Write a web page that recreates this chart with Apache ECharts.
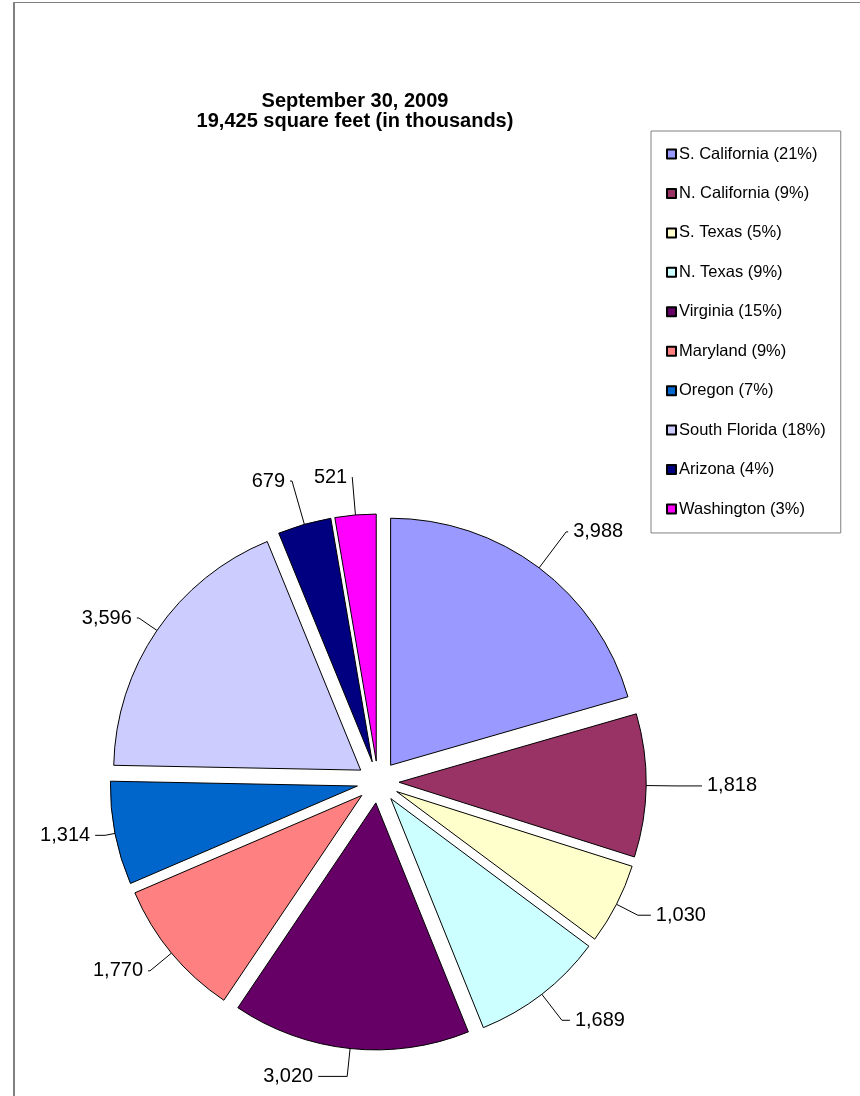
<!DOCTYPE html>
<html>
<head>
<meta charset="utf-8">
<script src="https://cdn.jsdelivr.net/npm/echarts@6/dist/echarts.min.js"></script>
<style>
html,body{margin:0;padding:0;background:#fff;}
#chart{width:860px;height:1096px;}
</style>
</head>
<body>
<div id="chart"></div>
<script>
const categories = ["S. California (21%)","N. California (9%)","S. Texas (5%)","N. Texas (9%)","Virginia (15%)","Maryland (9%)","Oregon (7%)","South Florida (18%)","Arizona (4%)","Washington (3%)"];
const values = [3988,1818,1030,1689,3020,1770,1314,3596,679,521];
const colors = ["#9999FF","#993366","#FFFFCC","#CCFFFF","#660066","#FF8080","#0066CC","#CCCCFF","#000080","#FF00FF"];
const titleLines = ["September 30, 2009","19,425 square feet (in thousands)"];
// leader line lengths per slice (style only): [first segment, second segment]
const leaderLengths = [[45,2],[30,26],[24,13],[33,8],[28,29],[28,2],[10,10],[22,2],[45,2],[38,0]];

const chart = echarts.init(document.getElementById('chart'), null, {renderer:'canvas'});
const FONT = 'Arial, "Liberation Sans", sans-serif';
chart.setOption({
  animation:false,
  backgroundColor:'#fff',
  title:{
    text:titleLines.join('\n'),
    left:355, top:91, textAlign:'center', padding:0,
    textStyle:{fontFamily:FONT,fontSize:20,fontWeight:'bold',color:'#000',lineHeight:20}
  },
  graphic:[
    {type:'line', shape:{x1:13,y1:2.5,x2:870,y2:2.5}, style:{stroke:'#808080',lineWidth:1}, silent:true},
    {type:'line', shape:{x1:14,y1:2,x2:14,y2:1100}, style:{stroke:'#808080',lineWidth:2}, silent:true}
  ],
  legend:{
    orient:'vertical', left:651, top:131,
    padding:[13.5,15,14.5,15], itemGap:20.44, itemWidth:9, itemHeight:9,
    backgroundColor:'#fff', borderColor:'#808080', borderWidth:1, borderRadius:0,
    selectedMode:false,
    textStyle:{fontFamily:FONT,fontSize:16.5,color:'#000',lineHeight:19, padding:[0,0,0,-2]},
    data:categories.map(c=>({name:c, icon:'rect'}))
  },
  series:[{
    type:'pie',
    center:[378,782],
    radius:[0,247],
    startAngle:90,
    clockwise:true,
    selectedMode:'multiple',
    selectedOffset:21,
    avoidLabelOverlap:false,
    itemStyle:{borderColor:'#000',borderWidth:1},
    select:{itemStyle:{borderColor:'#000',borderWidth:1}},
    emphasis:{disabled:true},
    label:{
      show:true, position:'outside', color:'#000', fontFamily:FONT, fontSize:20,
      formatter:p=>p.value.toLocaleString('en-US')
    },
    labelLine:{show:true,length:18,length2:10,lineStyle:{color:'#000',width:1}},
    data:categories.map((c,i)=>({
      name:c,value:values[i],selected:true,
      itemStyle:{color:colors[i]},
      labelLine:{length:leaderLengths[i][0],length2:leaderLengths[i][1]}
    }))
  }]
});
</script>
</body>
</html>
